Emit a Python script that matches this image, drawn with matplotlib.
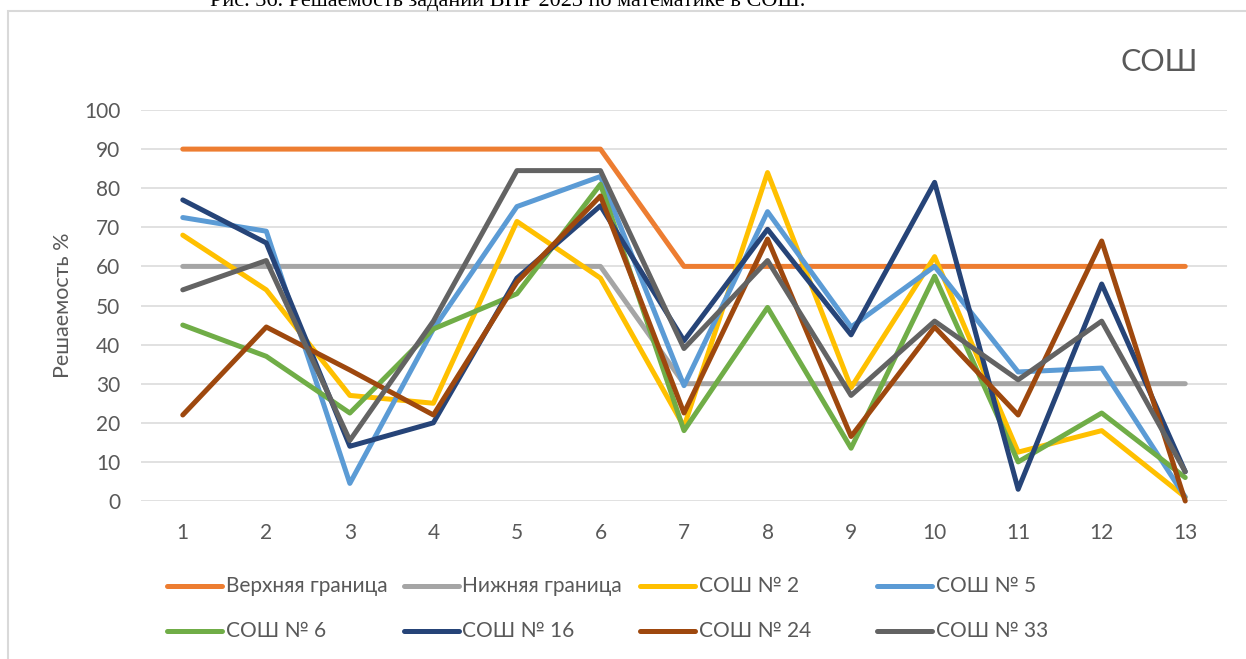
import matplotlib
matplotlib.use('Agg')
import matplotlib.pyplot as plt
from matplotlib.lines import Line2D
from matplotlib.patches import Rectangle

# ---------------- data ----------------
tasks = list(range(1, 14))
upper = [90, 90, 90, 90, 90, 90, 60, 60, 60, 60, 60, 60, 60]
lower = [60, 60, 60, 60, 60, 60, 30, 30, 30, 30, 30, 30, 30]
sosh2 = [68, 54, 27, 25, 71.5, 57, 19, 84, 29, 62.5, 12.5, 18, 1]
sosh5 = [72.5, 69, 4.5, 44, 75.3, 83, 29.5, 74, 44.5, 60, 33, 34, 1]
sosh6 = [45, 37, 22.5, 44, 53, 81, 18, 49.5, 13.5, 57.5, 10, 22.5, 6]
sosh16 = [77, 66, 14, 20, 57, 75.5, 41, 69.5, 42.5, 81.5, 3, 55.5, 7.5]
sosh24 = [22, 44.5, 33.5, 22, 56, 78, 22.5, 67, 16.5, 44.5, 22, 66.5, 0]
sosh33 = [54, 61.5, 15.5, 46, 84.5, 84.5, 39, 61.5, 27, 46, 31, 46, 7.5]

names = ['Верхняя граница', 'Нижняя граница', 'СОШ № 2', 'СОШ № 5',
         'СОШ № 6', 'СОШ № 16', 'СОШ № 24', 'СОШ № 33']
series = [upper, lower, sosh2, sosh5, sosh6, sosh16, sosh24, sosh33]
colors = ['#ED7D31', '#A5A5A5', '#FFC000', '#5B9BD5',
          '#70AD47', '#264478', '#9E480E', '#636363']

plt.rcParams['font.family'] = ['Lato', 'DejaVu Sans']

W, H = 1246, 659
fig = plt.figure(figsize=(W / 100, H / 100), dpi=100)
ax = fig.add_axes([141 / W, 1 - 501 / H, (1227 - 141) / W, (501 - 110) / H])

for vals, col, nm in zip(series, colors, names):
    ax.plot(tasks, vals, color=col, lw=3.6, solid_capstyle='round',
            solid_joinstyle='round', clip_on=False, label=nm)

ax.set_xlim(0.5, 13.5)
ax.set_ylim(0, 100)
ax.set_xticks(tasks)
ax.set_yticks(range(0, 101, 10))
ax.grid(axis='y', color='#D9D9D9', lw=1.1)
ax.set_axisbelow(True)
for s in ax.spines.values():
    s.set_visible(False)
ax.tick_params(length=0, labelsize=15, colors='#595959', pad=16)
ax.tick_params(axis='y', pad=15)
ax.set_ylabel('Решаемость %', fontsize=15.5, color='#595959', labelpad=8)

# title of chart
fig.text(1198 / W, 1 - 62 / H, 'СОШ', fontsize=22, color='#595959',
         ha='right', va='center')

# caption (cut off by the top of the picture)
fig.text(508 / W, 1 - 6 / H, 'Рис. 36. Решаемость заданий ВПР 2023 по математике в СОШ.',
         fontsize=16, family='Liberation Serif', color='#000000',
         ha='center', va='baseline')

# chart border
fig.add_artist(Rectangle((8 / W, -0.2), 1.2, 1.2 - 11 / H, transform=fig.transFigure,
                         fill=False, edgecolor='#D9D9D9', lw=1.5))

# legend, 4 equal columns
for i, (nm, col) in enumerate(zip(names, colors)):
    r, c = divmod(i, 4)
    x0 = 167 + c * 236.5
    y0 = 586 + r * 45
    fig.add_artist(Line2D([x0 / W, (x0 + 55) / W], [1 - y0 / H, 1 - y0 / H],
                          transform=fig.transFigure, color=col, lw=3.6,
                          solid_capstyle='round'))
    fig.text((x0 + 59) / W, 1 - y0 / H, nm, fontsize=15, color='#595959',
             ha='left', va='center')

fig.savefig('out.png', dpi=100)
